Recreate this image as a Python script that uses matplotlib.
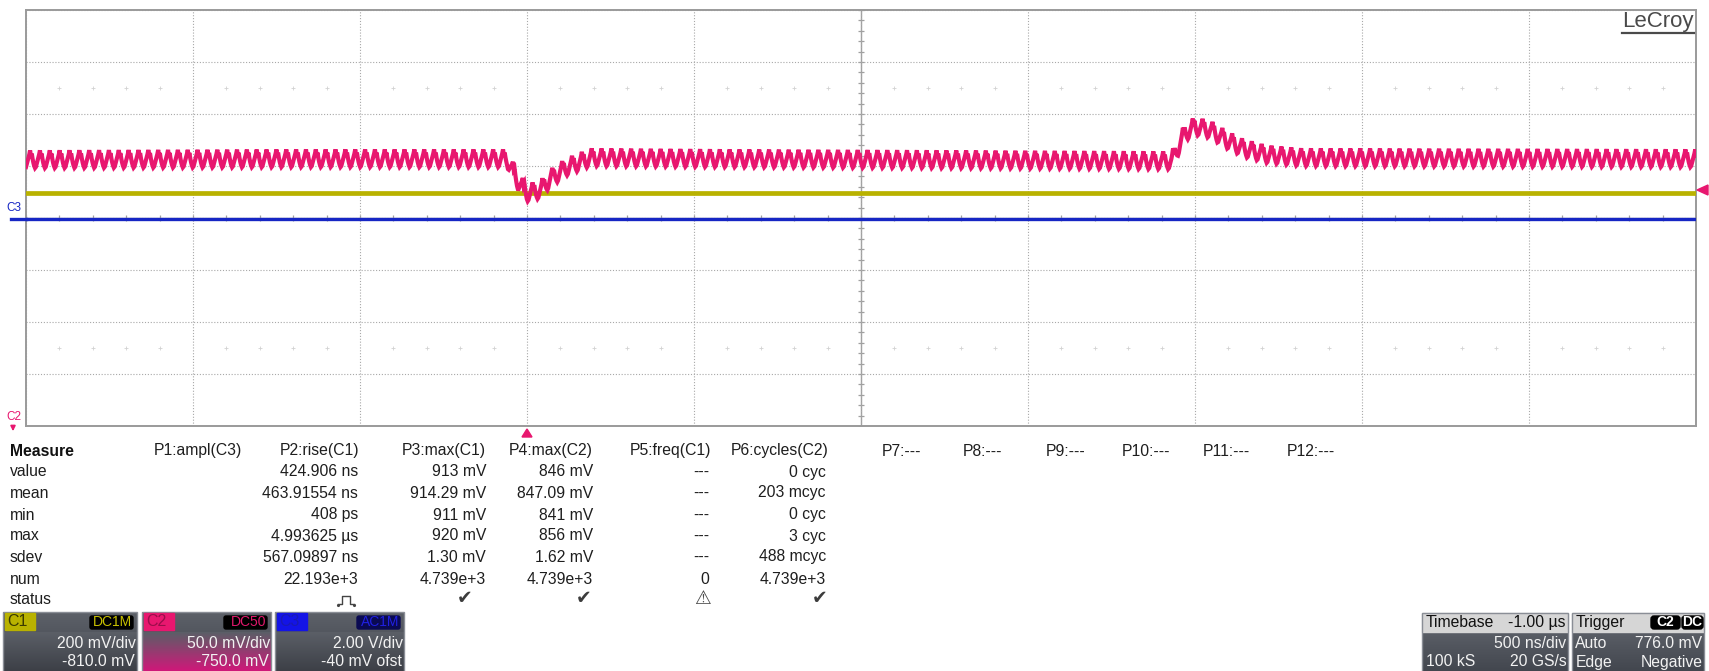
import numpy as np
import matplotlib
matplotlib.use("Agg")
import matplotlib.pyplot as plt
from matplotlib.patches import Rectangle, FancyBboxPatch, Polygon
from matplotlib.colors import to_rgb

W, H, DPI = 1709, 671, 100
FONT = ["Liberation Sans", "DejaVu Sans"]

# ---- acquisition settings -------------------------------------------------
ns_per_div = 500
n_hdiv, n_vdiv = 10, 8
t_left_ns = -1500                      # trigger sits 3 divisions from the left

c1_center_mV, c1_mV_per_div = 810.0, 200.0
c2_center_mV, c2_mV_per_div = 750.0, 50.0
c3_center_V, c3_V_per_div = 0.04, 2.0

# ---- waveforms ------------------------------------------------------------
# C2: slow level (knots) with the switching ripple riding on top of it
c2_knot_ns = [-1500, -700, -60, -30, 0, 40, 70, 120, 190, 600,
              1930, 1970, 2000, 2045, 2095, 2145, 2215, 2320, 3500]
c2_knot_mV = [806, 807, 807, 787, 774, 777, 788, 799, 808, 807,
              805, 832, 838, 835, 825, 817, 811, 808, 807]
c2_ripple_mV = [-7, -4, -1, 2, 5, 9, 3, 6, 1, -3, -6, -8]
c2_ripple_period_ns = 29.5

c1_level_mV = 906.0
c3_level_V = 0.0

# ---- measurement table ----------------------------------------------------
row_names = ["value", "mean", "min", "max", "sdev", "num", "status"]
param_headers = ["P1:ampl(C3)", "P2:rise(C1)", "P3:max(C1)", "P4:max(C2)",
                 "P5:freq(C1)", "P6:cycles(C2)"]
p1_values = ["", "", "", "", "", ""]
p2_values = ["424.906 ns", "463.91554 ns", "408 ps", "4.993625 µs",
             "567.09897 ns", "22.193e+3"]
p3_values = ["913 mV", "914.29 mV", "911 mV", "920 mV", "1.30 mV", "4.739e+3"]
p4_values = ["846 mV", "847.09 mV", "841 mV", "856 mV", "1.62 mV", "4.739e+3"]
p5_values = ["---", "---", "---", "---", "---", "0"]
p6_values = ["0 cyc", "203 mcyc", "0 cyc", "3 cyc", "488 mcyc", "4.739e+3"]
param_status = ["", "pulse", "ok", "ok", "warn", "ok"]
spare_params = ["P7:---", "P8:---", "P9:---", "P10:---", "P11:---", "P12:---"]

C1_COL = "#b9b200"
C2_COL = "#e8176f"
C3_COL = "#1626c4"

fig = plt.figure(figsize=(W / DPI, H / DPI), dpi=DPI)
fig.patch.set_facecolor("white")

# ---- graticule ------------------------------------------------------------
gx0, gy0, gx1, gy1 = 26, 10, 1696, 426
ax = fig.add_axes([gx0 / W, (H - gy1) / H, (gx1 - gx0) / W, (gy1 - gy0) / H])
t_right_ns = t_left_ns + n_hdiv * ns_per_div
ax.set_xlim(t_left_ns, t_right_ns)
ax.set_ylim(-n_vdiv / 2, n_vdiv / 2)
ax.set_xticks(np.arange(t_left_ns, t_right_ns + 1, ns_per_div))
ax.set_yticks(np.arange(-n_vdiv / 2, n_vdiv / 2 + 1, 1))
ax.tick_params(length=0, labelbottom=False, labelleft=False)
ax.grid(True, color="#a8a8a8", linestyle=(0, (1, 1.6)), linewidth=0.8)
for s in ax.spines.values():
    s.set_color("#9a9a9a")
    s.set_linewidth(1.4)

t_mid = t_left_ns + n_hdiv / 2 * ns_per_div
ax.axvline(t_mid, color="#a0a0a0", lw=1.0, zorder=1)
ax.axhline(0, color="#a0a0a0", lw=1.0, zorder=1)
minor_v = np.arange(-n_vdiv / 2, n_vdiv / 2 + 0.01, 0.2)
ax.plot(np.full_like(minor_v, t_mid), minor_v, ls="none", marker="_",
        ms=5, mew=0.9, color="#a0a0a0", zorder=1)
minor_t = np.arange(t_left_ns, t_right_ns + 1, ns_per_div / 5)
ax.plot(minor_t, np.zeros_like(minor_t), ls="none", marker="|",
        ms=5, mew=0.9, color="#a0a0a0", zorder=1)

# faint cursor dots at +/-2.5 div
dot_t = [t for i, t in enumerate(minor_t) if i % 5 != 0]
for yy in (2.5, -2.5):
    ax.plot(dot_t, np.full(len(dot_t), yy), ls="none", marker="+",
            ms=3, mew=0.6, color="#d2d2d2", zorder=1)

# ---- traces ---------------------------------------------------------------
dt = c2_ripple_period_ns / len(c2_ripple_mV)
t = np.arange(t_left_ns, t_right_ns + dt, dt)
c2_level = np.interp(t, c2_knot_ns, c2_knot_mV)
c2_ripple = np.resize(np.array(c2_ripple_mV, float), t.size)
c2_div = (c2_level + c2_ripple - c2_center_mV) / c2_mV_per_div
c1_div = (c1_level_mV - c1_center_mV) / c1_mV_per_div
c3_div = (c3_level_V - c3_center_V) / c3_V_per_div

ax.plot([t_left_ns, t_right_ns], [c3_div, c3_div], color=C3_COL, lw=2.4, zorder=3)
ax.plot([t_left_ns, t_right_ns], [c1_div, c1_div], color=C1_COL, lw=3.4, zorder=4)
ax.plot(t, c2_div, color=C2_COL, lw=3.0, zorder=5, solid_joinstyle="miter")

# ---- overlay in pixel coordinates ----------------------------------------
ov = fig.add_axes([0, 0, 1, 1], zorder=10)
ov.patch.set_alpha(0)
ov.axis("off")


def txt(x, y, s, ha="left", size=11.3, color="#1e1e1e", weight="normal", **kw):
    ov.text(x, y, s, ha=ha, va="center", fontsize=size, color=color,
            family=FONT, fontweight=weight, **kw)


def gradient(x0, y0, x1, y1, c_top, c_bot):
    a, b = np.array(to_rgb(c_top)), np.array(to_rgb(c_bot))
    f = np.linspace(0, 1, 64)[:, None, None]
    img = a * (1 - f) + b * f
    img = np.repeat(img, 2, axis=1)
    ov.imshow(img, extent=(x0, x1, y1, y0), aspect="auto", interpolation="bilinear",
              zorder=1)


# LeCroy badge
txt(1694, 21, "LeCroy", ha="right", size=16, color="#4a4a4a")
ov.plot([1622, 1694], [33, 33], color="#4a4a4a", lw=1.6)

# channel markers on the graticule edges
txt(6, 208, "C3", size=8.5, color=C3_COL)
ov.plot([11, gx0], [218.5, 218.5], color=C3_COL, lw=2.4)
txt(6, 417, "C2", size=8.5, color=C2_COL)
ov.annotate("", xy=(13, 434), xytext=(13, 423),
            arrowprops=dict(arrowstyle="-|>", color=C2_COL, lw=1.2, mutation_scale=7))
trig_x = gx0 + (0 - t_left_ns) / ns_per_div * (gx1 - gx0) / n_hdiv
ov.add_patch(Polygon([[trig_x - 5, 437], [trig_x + 5, 437], [trig_x, 429]],
                     closed=True, color=C2_COL))
ov.add_patch(Polygon([[1697, 190], [1708, 185], [1708, 195]], closed=True, color=C2_COL))

# measurement table
row_y = [472, 493, 515, 536, 557, 579, 600]
txt(10, 451, "Measure", weight="bold", color="#111111")
for name, yy in zip(row_names, row_y):
    txt(10, yy, name)
hdr_right = [242, 359, 486, 593, 711, 828]
val_right = [242, 358, 486, 593, 709, 826]
for h, xr in zip(param_headers, hdr_right):
    txt(xr, 451, h, ha="right")
columns = [p1_values, p2_values, p3_values, p4_values, p5_values, p6_values]
for vals, xr in zip(columns, val_right):
    for v, yy in zip(vals, row_y[:-1]):
        if v:
            txt(xr, yy, v, ha="right")
status_x = [200, 346, 465, 584, 702, 820]
for st, sx in zip(param_status, status_x):
    if st == "ok":
        txt(sx, 600, "✔", ha="center", size=13.5, color="#3c3c3c")
    elif st == "warn":
        txt(sx, 599, "⚠", ha="center", size=13.5, color="#4a4a4a")
    elif st == "pulse":
        ov.plot([sx - 8, sx - 4, sx - 4, sx + 4, sx + 4, sx + 8],
                [604, 604, 596, 596, 604, 604], color="#444444", lw=1.0)
        ov.plot([sx - 8, sx + 8], [605, 605], ls="none", marker=".", ms=2.5, color="#444444")
spare_x = [882, 963, 1046, 1122, 1203, 1287]
for s, sx in zip(spare_params, spare_x):
    txt(sx, 452, s)

# channel descriptor boxes
chan_boxes = [
    dict(x0=3, x1=137, lab="C1", labcol=C1_COL, labtxt="#3a3a00", cpl="DC1M",
         cplbg="#000000", cpltxt="#c8c000", l1="200 mV/div", l2="-810.0 mV",
         bot="#3c3f46"),
    dict(x0=142, x1=271, lab="C2", labcol=C2_COL, labtxt="#9a0d4a", cpl="DC50",
         cplbg="#000000", cpltxt="#e0186c", l1="50.0 mV/div", l2="-750.0 mV",
         bot="#d2167a"),
    dict(x0=275, x1=404, lab="C3", labcol="#1414e6", labtxt="#1a1ab4", cpl="AC1M",
         cplbg="#0a0a52", cpltxt="#2020e0", l1="2.00 V/div", l2="-40 mV ofst",
         bot="#3c3f46"),
]
by0, by1 = 612, 672
for b in chan_boxes:
    x0, x1 = b["x0"], b["x1"]
    gradient(x0, by0, x1, 632, "#5d6169", "#53575f")
    gradient(x0, 632, x1, by1, "#5b5f67", b["bot"])
    ov.add_patch(Rectangle((x0, by0), x1 - x0, by1 - by0, fill=False,
                           ec="#8a8e96", lw=1.0, zorder=2))
    ov.add_patch(Rectangle((x0 + 2, 613), 30, 17, color=b["labcol"], zorder=3))
    txt(x0 + 4, 621.5, b["lab"], size=11.5, color=b["labtxt"], zorder=4)
    ov.add_patch(FancyBboxPatch((x1 - 47, 616), 43, 13,
                                boxstyle="round,pad=0,rounding_size=2",
                                color=b["cplbg"], zorder=3))
    txt(x1 - 5, 622.5, b["cpl"], ha="right", size=10, color=b["cpltxt"], zorder=4)
    txt(x1 - 1, 643, b["l1"], ha="right", color="#f2f2f2", zorder=4)
    txt(x1 - 2, 662, b["l2"], ha="right", color="#f2f2f2", zorder=4)

# timebase and trigger boxes
info_boxes = [
    dict(x0=1422, x1=1568, head=("Timebase", "-1.00 µs"),
         r1=("", "500 ns/div"), r2=("100 kS", "20 GS/s")),
    dict(x0=1572, x1=1704, head=("Trigger", ""),
         r1=("Auto", "776.0 mV"), r2=("Edge", "Negative")),
]
for b in info_boxes:
    x0, x1 = b["x0"], b["x1"]
    ov.add_patch(Rectangle((x0, 613), x1 - x0, 19, color="#d6d6d6", zorder=2))
    gradient(x0, 632, x1, by1, "#5a5e66", "#42464e")
    ov.add_patch(Rectangle((x0, 613), x1 - x0, by1 - 613, fill=False,
                           ec="#8a8e96", lw=1.0, zorder=3))
    txt(x0 + 4, 622.5, b["head"][0], color="#111111", zorder=4)
    if b["head"][1]:
        txt(x1 - 2, 622.5, b["head"][1], ha="right", color="#111111", zorder=4)
    if b["r1"][0]:
        txt(x0 + 3, 643, b["r1"][0], color="#f2f2f2", zorder=4)
    txt(x1 - 2, 643, b["r1"][1], ha="right", color="#f2f2f2", zorder=4)
    txt(x0 + 4, 662, b["r2"][0], color="#f2f2f2", zorder=4)
    txt(x1 - 1, 662, b["r2"][1], ha="right", color="#f2f2f2", zorder=4)

# trigger source / coupling tags
for lab, xa, wa in (("C2", 1651, 29), ("DC", 1682, 21)):
    ov.add_patch(FancyBboxPatch((xa, 616), wa, 13, boxstyle="round,pad=0,rounding_size=3",
                                color="#000000", zorder=4))
    txt(xa + wa / 2, 622.5, lab, ha="center", size=10, color="#ffffff",
        weight="bold", zorder=5)

ov.set_xlim(0, W)
ov.set_ylim(H, 0)

fig.savefig("out.png", dpi=DPI)
